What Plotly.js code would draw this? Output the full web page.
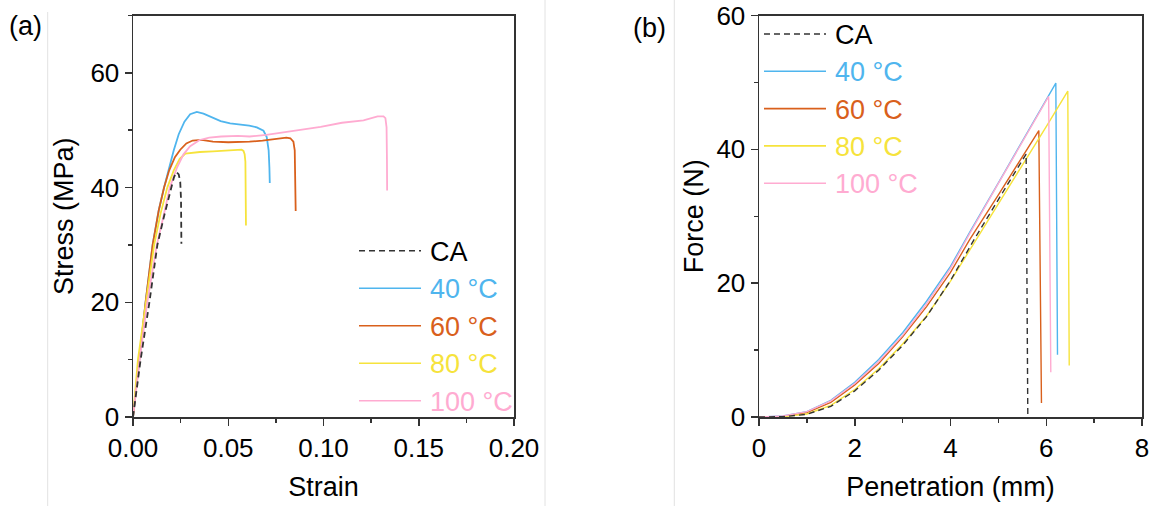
<!DOCTYPE html>
<html>
<head>
<meta charset="utf-8">
<script src="https://cdn.plot.ly/plotly-3.0.1.min.js"></script>
<style>html,body{margin:0;padding:0;background:#fff;}#chart{width:1152px;height:506px;}</style>
</head>
<body>
<div id="chart"></div>
<script>
// ---------- series names & colours ----------
const seriesNames = ['CA', '40 °C', '60 °C', '80 °C', '100 °C'];
const seriesColors = ['#333333', '#4fb5ee', '#d9601c', '#f6e33c', '#ffabd1'];

// ---------- panel (a): tensile stress-strain ----------
const strainCA   = [0, 0.004, 0.0086, 0.0128, 0.0163, 0.020, 0.0215, 0.0228, 0.0240, 0.0248, 0.0252, 0.0254];
const stressCA   = [0, 10, 20, 30, 35, 40, 41.8, 42.7, 42.3, 41, 38, 30.2];

const strain40   = [0, 0.0032, 0.0066, 0.0103, 0.0135, 0.0163, 0.019, 0.0214, 0.024, 0.027, 0.030, 0.0335, 0.037, 0.041, 0.046, 0.051, 0.056, 0.061, 0.065, 0.0685, 0.0702, 0.0712, 0.0716, 0.0718];
const stress40   = [0, 10, 20, 30, 36, 40, 43.5, 46.5, 49.3, 51.5, 52.8, 53.2, 52.9, 52.3, 51.6, 51.2, 51.0, 50.8, 50.5, 49.9, 48.8, 46.5, 43.5, 40.8];

const strain60   = [0, 0.0032, 0.0066, 0.0103, 0.0135, 0.0163, 0.019, 0.022, 0.0248, 0.028, 0.0313, 0.036, 0.042, 0.05, 0.056, 0.0612, 0.068, 0.0761, 0.0805, 0.0826, 0.0842, 0.0849, 0.0852, 0.0854];
const stress60   = [0, 10, 20, 30, 36, 40, 43, 45.3, 46.6, 47.7, 48.2, 48.3, 48.0, 47.9, 47.9, 48.0, 48.2, 48.5, 48.7, 48.6, 48.0, 46.5, 42, 35.9];

const strain80   = [0, 0.0026, 0.0068, 0.0111, 0.0145, 0.018, 0.0214, 0.0245, 0.0274, 0.031, 0.0351, 0.042, 0.05, 0.0545, 0.057, 0.058, 0.0586, 0.059, 0.0592, 0.0593];
const stress80   = [0, 10, 20, 30, 35.5, 40, 43, 45, 45.9, 46.1, 46.2, 46.3, 46.4, 46.5, 46.6, 46.4, 45.8, 44.5, 40, 33.4];

const strain100  = [0, 0.0035, 0.0075, 0.0125, 0.016, 0.0193, 0.0231, 0.0265, 0.030, 0.035, 0.040, 0.0463, 0.055, 0.0612, 0.07, 0.0799, 0.091, 0.0985, 0.1097, 0.121, 0.1284, 0.1315, 0.1325, 0.1331, 0.1333, 0.1334];
const stress100  = [0, 10, 20, 30, 35, 40, 43.5, 45.8, 47.2, 48.3, 48.7, 48.9, 49.0, 48.9, 49.2, 49.7, 50.3, 50.6, 51.3, 51.7, 52.4, 52.4, 52.1, 50.5, 45, 39.5];

// ---------- panel (b): puncture force-penetration ----------
const penCA   = [0, 0.5, 1, 1.5, 2, 2.5, 3, 3.5, 4, 4.5, 5, 5.5, 5.58, 5.615];
const forceCA = [0, 0.05, 0.4, 1.6, 3.9, 7.0, 10.7, 15.0, 20.4, 26.6, 32.5, 38.3, 39.3, 0];

const pen40   = [0, 0.5, 1, 1.5, 2, 2.5, 3, 3.5, 4, 4.4, 5, 5.5, 6, 6.2, 6.235];
const force40 = [0, 0.15, 0.8, 2.5, 5.2, 8.6, 12.6, 17.3, 22.5, 27.6, 35.0, 41.2, 47.4, 49.9, 9.3];

const pen60   = [0, 0.5, 1, 1.5, 2, 2.5, 3, 3.5, 4, 4.4, 5, 5.5, 5.845, 5.9];
const force60 = [0, 0.1, 0.65, 2.2, 4.8, 8.0, 12.0, 16.5, 21.6, 26.5, 33.2, 38.9, 42.8, 2.1];

const pen80   = [0, 0.5, 1, 1.5, 2, 2.5, 3, 3.5, 4, 4.55, 5, 5.5, 6, 6.45, 6.48];
const force80 = [0, 0.06, 0.45, 1.75, 4.1, 7.2, 10.9, 15.1, 20.3, 26.6, 31.8, 37.6, 43.4, 48.7, 7.7];

const pen100   = [0, 0.5, 1, 1.5, 2, 2.5, 3, 3.5, 4, 4.4, 5, 5.5, 6, 6.05, 6.095];
const force100 = [0, 0.15, 0.8, 2.4, 5.0, 8.3, 12.2, 16.9, 22.2, 27.4, 34.9, 41.1, 47.3, 47.9, 6.7];

// ---------- axis titles ----------
const xTitleA = 'Strain', yTitleA = 'Stress (MPa)';
const xTitleB = 'Penetration (mm)', yTitleB = 'Force (N)';

const W = 1152, H = 506;
const px = v => v / W, py = v => 1 - v / H;

const seriesA = [[strainCA, stressCA], [strain40, stress40], [strain60, stress60], [strain80, stress80], [strain100, stress100]];
const seriesB = [[penCA, forceCA], [pen40, force40], [pen60, force60], [pen80, force80], [pen100, force100]];

const traces = [];
seriesA.forEach((s, i) => traces.push({
  x: s[0], y: s[1], type: 'scatter', mode: 'lines', name: seriesNames[i],
  xaxis: 'x', yaxis: 'y', showlegend: false,
  line: {color: seriesColors[i], width: 1.8, dash: i === 0 ? '6px,4px' : 'solid'}
}));
seriesB.forEach((s, i) => traces.push({
  x: s[0], y: s[1], type: 'scatter', mode: 'lines', name: seriesNames[i],
  xaxis: 'x2', yaxis: 'y2', showlegend: false,
  line: {color: seriesColors[i], width: 1.4, dash: i === 0 ? '6px,4px' : 'solid'}
}));
// draw CA on top
const order = [1,2,3,4,0,6,7,8,9,5];
const data = order.map(k => traces[k]);

const FONT = 'Arial, "Liberation Sans", sans-serif';
const axCommon = {
  showgrid: false, zeroline: false, showline: true, mirror: true,
  linecolor: '#333', linewidth: 1.5,
  ticks: 'outside', ticklen: 7, tickwidth: 1.5, tickcolor: '#333',
  tickfont: {family: FONT, size: 26, color: '#000'},
  fixedrange: true
};
const minorCommon = {ticks: 'outside', ticklen: 4, tickwidth: 1.5, tickcolor: '#333', showgrid: false};

const yDom = [py(417), py(15.5)];
const TITLE_FONT = {family: FONT, size: 27, color: '#000'};

const layout = {
  width: W, height: H,
  margin: {l: 0, r: 0, t: 0, b: 0},
  paper_bgcolor: '#fff', plot_bgcolor: '#fff',
  font: {family: FONT, color: '#000'},
  showlegend: false,
  xaxis: Object.assign({}, axCommon, {
    domain: [px(133), px(514)], range: [0, 0.2], tick0: 0, dtick: 0.05, tickformat: '.2f',
    minor: Object.assign({dtick: 0.025}, minorCommon), anchor: 'y',
    title: {text: xTitleA, font: TITLE_FONT, standoff: 15}
  }),
  yaxis: Object.assign({}, axCommon, {
    domain: yDom, range: [0, 70], tick0: 0, dtick: 20,
    minor: Object.assign({dtick: 10}, minorCommon), anchor: 'x',
    title: {text: yTitleA, font: TITLE_FONT, standoff: 9}
  }),
  xaxis2: Object.assign({}, axCommon, {
    domain: [px(759), px(1142)], range: [0, 8], tick0: 0, dtick: 2,
    minor: Object.assign({dtick: 1}, minorCommon), anchor: 'y2',
    title: {text: xTitleB, font: TITLE_FONT, standoff: 15}
  }),
  yaxis2: Object.assign({}, axCommon, {
    domain: yDom, range: [0, 60], tick0: 0, dtick: 20,
    minor: Object.assign({dtick: 10}, minorCommon), anchor: 'x2',
    title: {text: yTitleB, font: TITLE_FONT, standoff: 5}
  }),
  shapes: [],
  annotations: []
};

// faint panel separators
[47.7, 545, 674.3].forEach((xv, i) => layout.shapes.push({
  type: 'line', xref: 'paper', yref: 'paper', x0: px(xv), x1: px(xv),
  y0: 0, y1: i === 0 ? py(12) : 1, line: {color: '#e2e2e2', width: 1}
}));

// panel labels
layout.annotations.push({xref: 'paper', yref: 'paper', x: px(25), y: py(26), text: '(a)', showarrow: false,
  xanchor: 'center', yanchor: 'middle', font: {family: FONT, size: 27, color: '#000'}});
layout.annotations.push({xref: 'paper', yref: 'paper', x: px(649), y: py(28), text: '(b)', showarrow: false,
  xanchor: 'center', yanchor: 'middle', font: {family: FONT, size: 27, color: '#000'}});

// custom legends (long line samples, coloured labels)
function addLegend(lineX0, lineX1, textX, rowY0, rowStep) {
  seriesNames.forEach((nm, i) => {
    const yv = rowY0 + i * rowStep;
    layout.shapes.push({type: 'line', xref: 'paper', yref: 'paper',
      x0: px(lineX0), x1: px(lineX1), y0: py(yv), y1: py(yv),
      line: {color: seriesColors[i], width: 1.6, dash: i === 0 ? '6px,4px' : 'solid'}});
    layout.annotations.push({xref: 'paper', yref: 'paper', x: px(textX), y: py(yv + 1),
      text: nm, showarrow: false, xanchor: 'left', yanchor: 'middle',
      font: {family: FONT, size: 27, color: i === 0 ? '#000' : seriesColors[i]}});
  });
}
addLegend(359, 421, 428, 250.7, 37.5);
addLegend(764, 826, 833, 34, 37.3);

Plotly.newPlot('chart', data, layout, {displayModeBar: false, staticPlot: true});
</script>
</body>
</html>
